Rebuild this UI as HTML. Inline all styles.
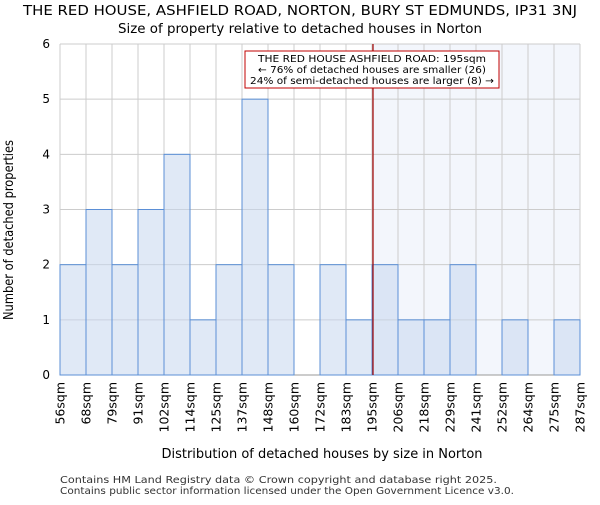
<!DOCTYPE html>
<html><head><meta charset="utf-8"><style>
body{margin:0;background:#fff;}
svg{font-family:"DejaVu Sans","Liberation Sans",sans-serif;}
</style></head><body>
<svg id="chart" width="600" height="500">
<text x="300" y="15" text-anchor="middle" font-size="13" textLength="554" lengthAdjust="spacingAndGlyphs">THE RED HOUSE, ASHFIELD ROAD, NORTON, BURY ST EDMUNDS, IP31 3NJ</text>
<text x="300" y="33" text-anchor="middle" font-size="13" textLength="364" lengthAdjust="spacingAndGlyphs">Size of property relative to detached houses in Norton</text>
<rect x="373" y="44" width="207" height="331" fill="#f3f6fc"/>
<g id="grid"></g>
<g id="bars"></g>
<g id="ticks"></g>
<line x1="373" y1="44" x2="373" y2="375" stroke="#a00000" stroke-width="1.2"/>
<rect x="245" y="51" width="254" height="37" fill="#fff" stroke="#c00000" stroke-width="1"/>
<text x="372" y="62" text-anchor="middle" font-size="10" textLength="228" lengthAdjust="spacingAndGlyphs">THE RED HOUSE ASHFIELD ROAD: 195sqm</text>
<text x="372" y="73" text-anchor="middle" font-size="10" textLength="228" lengthAdjust="spacingAndGlyphs">← 76% of detached houses are smaller (26)</text>
<text x="372" y="84" text-anchor="middle" font-size="10" textLength="244" lengthAdjust="spacingAndGlyphs">24% of semi-detached houses are larger (8) →</text>
<text x="322" y="458" text-anchor="middle" font-size="13" textLength="321" lengthAdjust="spacingAndGlyphs">Distribution of detached houses by size in Norton</text>
<text transform="translate(13,230) rotate(-90)" text-anchor="middle" font-size="13" textLength="180" lengthAdjust="spacingAndGlyphs">Number of detached properties</text>
<text x="60" y="483" font-size="10" fill="#333" textLength="437" lengthAdjust="spacingAndGlyphs">Contains HM Land Registry data © Crown copyright and database right 2025.</text>
<text x="60" y="494" font-size="10" fill="#333" textLength="454" lengthAdjust="spacingAndGlyphs">Contains public sector information licensed under the Open Government Licence v3.0.</text>
</svg>
<script>
const binLabels=["56sqm","68sqm","79sqm","91sqm","102sqm","114sqm","125sqm","137sqm","148sqm","160sqm","172sqm","183sqm","195sqm","206sqm","218sqm","229sqm","241sqm","252sqm","264sqm","275sqm","287sqm"];
const counts=[2,3,2,3,4,1,2,5,2,0,2,1,2,1,1,2,0,1,0,1];
const yTicks=[0,1,2,3,4,5,6];
const ns="http://www.w3.org/2000/svg";
const L=60,R=580,T=44,B=375,yMax=6;
const nb=counts.length;
const xs=i=>L+(R-L)*i/nb;
const ys=v=>B-(B-T)*v/yMax;
function mk(tag,attrs,parent){const e=document.createElementNS(ns,tag);for(const k in attrs)e.setAttribute(k,attrs[k]);document.getElementById(parent).appendChild(e);return e;}
for(let i=0;i<=nb;i++){
 const g=mk('line',{x1:xs(i),x2:xs(i),y1:T,y2:B,stroke:'#cccccc','stroke-width':1},'grid');
 
 
 const t=mk('text',{transform:`translate(${xs(i)+4.5},382) rotate(-90)`,'text-anchor':'end','font-size':12.5},'ticks');
 t.textContent=binLabels[i];
 
 
}
yTicks.forEach(v=>{
 const g=mk('line',{x1:L,x2:R,y1:ys(v),y2:ys(v),stroke:v===0?'#999':'#cccccc','stroke-width':1},'grid');
 
 
 const t=mk('text',{x:50,y:ys(v)+4,'text-anchor':'end','font-size':12},'ticks');
 t.textContent=v;
 
 
});
counts.forEach((c,i)=>{
 if(c<=0)return;
 const r=mk('rect',{x:xs(i),y:ys(c),width:xs(i+1)-xs(i),height:B-ys(c),fill:'#c6d7ef','fill-opacity':0.55,stroke:'#5b8fd6','stroke-width':1},'bars');
 
 
});
</script>
</body></html>
